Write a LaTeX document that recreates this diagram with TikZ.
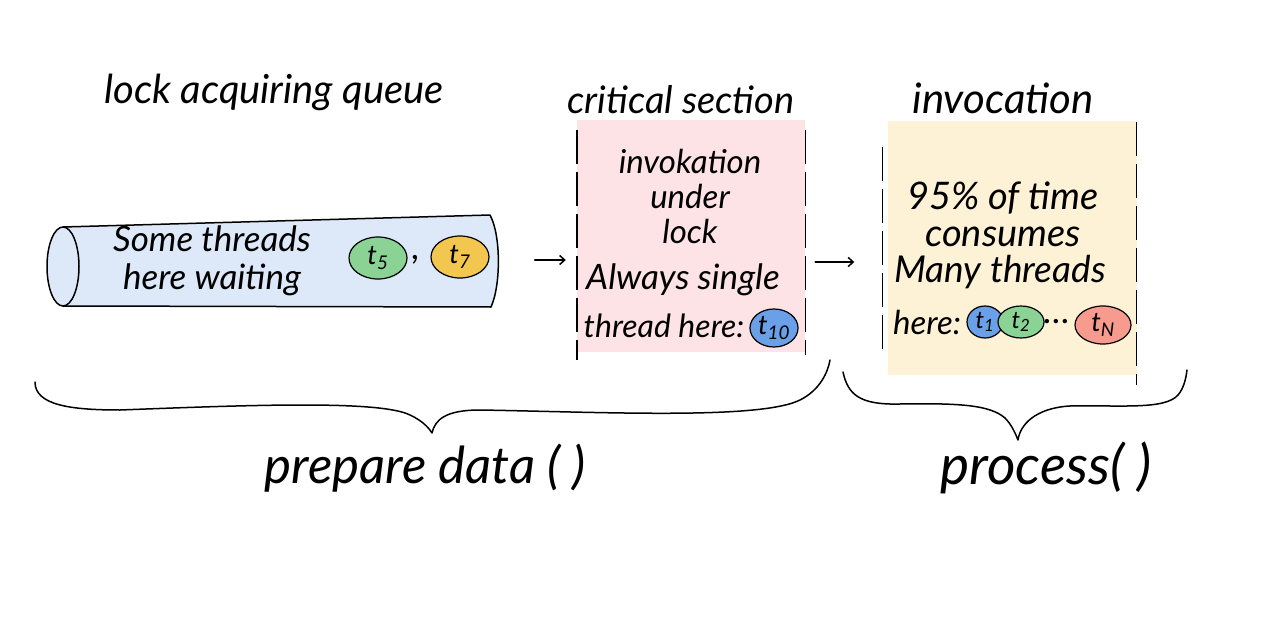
\documentclass[tikz,border=0pt]{standalone}
\usepackage{fontspec}
\setmainfont{Lato}
\usetikzlibrary{shapes.geometric,arrows.meta}
\definecolor{qblue}{HTML}{DDE9F8}
\definecolor{cpink}{HTML}{FDE3E6}
\definecolor{iyellow}{HTML}{FDF2D5}
\definecolor{tgreen}{HTML}{8AD395}
\definecolor{tyellow}{HTML}{F2C64F}
\definecolor{tblue}{HTML}{6AA0E8}
\definecolor{tred}{HTML}{F79B8F}
\tikzset{
  hand/.style={font=\itshape\fontsize{35}{38}\selectfont, text=black, align=center, inner sep=0pt},
  title/.style={font=\itshape\fontsize{40}{44}\selectfont, inner sep=0pt},
  thread/.style={ellipse, draw=black, line width=1.2pt, inner sep=1pt, font=\itshape\fontsize{27}{28}\selectfont},
  section/.style={rectangle, draw=none, inner sep=0pt},
  sideline/.style={line width=1.4pt, dash pattern=on 34pt off 8pt},
  pen/.style={line width=1.5pt, line cap=round, line join=round},
  flow/.style={pen, -{Straight Barb[length=5pt,width=9pt]}}
}
\begin{document}
\begin{tikzpicture}[x=1pt,y=-1pt]
\useasboundingbox[fill=white] (0,0) rectangle (1280,623);

% queue cylinder
\node[section, minimum width=437pt, minimum height=92pt] (queue) at (280,262) {};
\fill[qblue] (63,227) -- (490,215) .. controls (501,235) and (501,285) .. (491,307) -- (63,306) -- cycle;
\draw[pen, fill=qblue] (63,266.5) ellipse [x radius=16, y radius=39.5];
\draw[pen] (63,227) -- (490,215) .. controls (501,235) and (501,285) .. (491,307) -- (63,306);
\node[hand] (qtext) at (212,261) {Some threads\\ here waiting};
\node[thread, fill=tgreen, minimum width=58pt, minimum height=42pt] (t5) at (378,258) {t\textsubscript{5}};
\node[hand] (comma) at (416,260) {,};
\node[thread, fill=tyellow, minimum width=58pt, minimum height=42pt] (t7) at (460,257) {t\textsubscript{7}};

% critical section box
\node[section, fill=cpink, minimum width=228pt, minimum height=232pt] (crit) at (691,236) {};
\draw[sideline] ([yshift=-10pt]crit.north west) -- ([yshift=-8pt]crit.south west);
\draw[sideline] ([yshift=-10pt]crit.north east) -- ([yshift=-3pt]crit.south east);
\node[hand, font=\itshape\fontsize{33}{35}\selectfont] (ctext) at (690,196) {invokation\\ under\\ lock};
\node[hand] (always) at (683,280) {Always single};
\node[hand, font=\itshape\fontsize{32}{35}\selectfont] (single) at (664,326) {thread here:};
\node[thread, fill=tblue, minimum width=46pt, minimum height=38pt] (t10) at (774,328) {t\textsubscript{10}};

% invocation box
\node[section, fill=iyellow, minimum width=249pt, minimum height=254pt] (inv) at (1012,248) {};
\draw[sideline] ([xshift=-5pt,yshift=-26pt]inv.north west) -- ([xshift=-5pt,yshift=20pt]inv.south west);
\draw[sideline] ([yshift=-1pt]inv.north east) -- ([yshift=-10pt]inv.south east);
\node[hand, font=\itshape\fontsize{38}{37}\selectfont] (itext) at (1003,214) {95\% of time\\ consumes};
\node[hand, font=\itshape\fontsize{37}{37}\selectfont] (many) at (1000,272) {Many threads};
\node[hand, font=\itshape\fontsize{33}{35}\selectfont] (here) at (927,322) {here:};
\node[thread, fill=tblue, minimum width=36pt, minimum height=32pt, font=\itshape\fontsize{24}{26}\selectfont] (t1) at (985,322) {t\textsubscript{1}};
\node[thread, fill=tgreen, minimum width=46pt, minimum height=32pt, font=\itshape\fontsize{24}{26}\selectfont] (t2) at (1021,322) {t\textsubscript{2}};
\node[hand] (dots) at (1057,322) {\dots};
\node[thread, fill=tred, minimum width=56pt, minimum height=38pt] (tn) at (1103,325) {t\textsubscript{N}};

% titles
\node[title] (tq) at (274,92) {lock acquiring queue};
\node[title, font=\itshape\fontsize{38}{42}\selectfont] (tc) at (681,100) {critical section};
\node[title, font=\itshape\fontsize{42}{44}\selectfont] (ti) at (1003,98) {invocation};

% arrows
\draw[flow, shorten <=36pt, shorten >=11pt] ([yshift=2pt]queue.east) -- ([yshift=2pt]queue.east -| crit.west);
\draw[flow, shorten <=10pt, shorten >=33pt] ([yshift=-26pt]crit.east) -- ([yshift=-26pt]crit.east -| inv.west);

% braces
\draw[pen] (35,382) .. controls (35,405) and (70,410) .. (120,410)
  .. controls (250,405) and (380,400) .. (410,415)
  .. controls (425,422) and (430,430) .. (432,433)
  .. controls (435,420) and (445,410) .. (480,410)
  .. controls (600,412) and (760,420) .. (800,400)
  .. controls (820,390) and (828,372) .. (830,360);
\draw[pen] (843,372) .. controls (848,395) and (860,405) .. (900,404)
  .. controls (960,403) and (990,405) .. (1005,418)
  .. controls (1012,425) and (1016,435) .. (1018,440)
  .. controls (1020,425) and (1035,408) .. (1070,406)
  .. controls (1120,405) and (1165,410) .. (1178,395)
  .. controls (1184,388) and (1186,378) .. (1187,370);

\node[title, font=\itshape\fontsize{51}{54}\selectfont] (prep) at (425,468) {prepare data ( )};
\node[title, font=\itshape\fontsize{55}{58}\selectfont] (proc) at (1046,468) {process( )};
\end{tikzpicture}
\end{document}
